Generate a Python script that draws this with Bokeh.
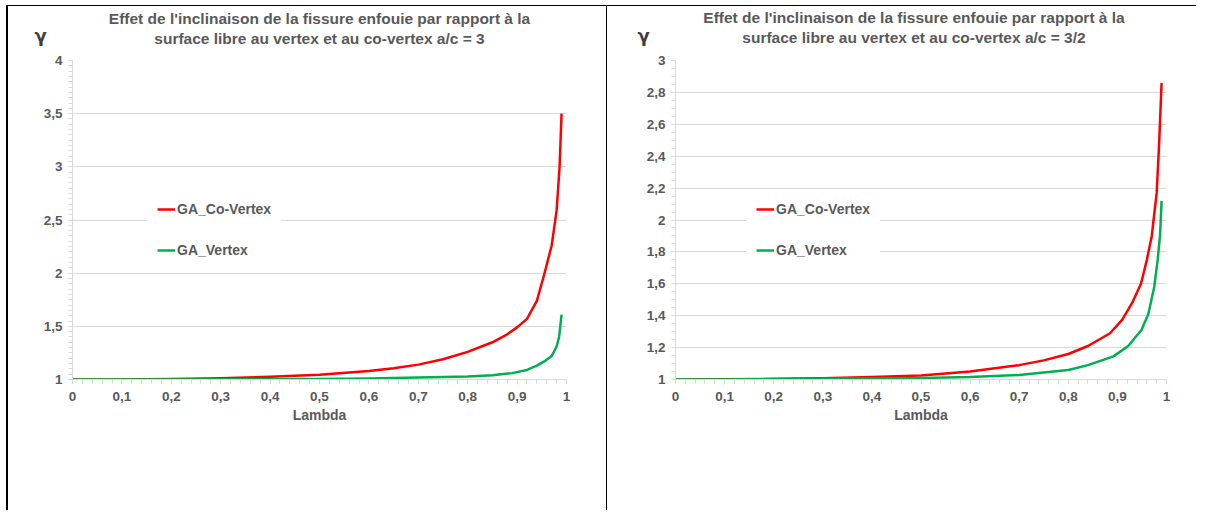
from bokeh.plotting import figure
from bokeh.layouts import row
from bokeh.models import FixedTicker, Legend, LegendItem, Title
from bokeh.embed import file_html
from bokeh.resources import INLINE

# ---------------- data ----------------
titles_left = ["Effet de l'inclinaison de la fissure enfouie par rapport à la",
               "surface libre au vertex et au co-vertex a/c = 3"]
titles_right = ["Effet de l'inclinaison de la fissure enfouie par rapport à la",
                "surface libre au vertex et au co-vertex a/c = 3/2"]
series_names = ["GA_Co-Vertex", "GA_Vertex"]
x_axis_title = "Lambda"
y_axis_title = "γ"

x_ticks = [0, 0.1, 0.2, 0.3, 0.4, 0.5, 0.6, 0.7, 0.8, 0.9, 1.0]
x_tick_labels = ["0", "0,1", "0,2", "0,3", "0,4", "0,5", "0,6", "0,7", "0,8", "0,9", "1"]
y_ticks_left = [1, 1.5, 2, 2.5, 3, 3.5, 4]
y_tick_labels_left = ["1", "1,5", "2", "2,5", "3", "3,5", "4"]
y_ticks_right = [1, 1.2, 1.4, 1.6, 1.8, 2.0, 2.2, 2.4, 2.6, 2.8, 3.0]
y_tick_labels_right = ["1", "1,2", "1,4", "1,6", "1,8", "2", "2,2", "2,4", "2,6", "2,8", "3"]

# a/c = 3
lam_co_3 = [0, 0.1, 0.2, 0.3, 0.4, 0.5, 0.6, 0.65, 0.7, 0.75, 0.8, 0.85, 0.88, 0.9,
            0.92, 0.94, 0.955, 0.97, 0.98, 0.986, 0.99]
gam_co_3 = [1.0, 1.001, 1.004, 1.012, 1.025, 1.045, 1.08, 1.105, 1.14, 1.19, 1.26, 1.35,
            1.425, 1.49, 1.57, 1.74, 1.99, 2.26, 2.59, 3.0, 3.5]
lam_v_3 = [0, 0.2, 0.4, 0.5, 0.6, 0.7, 0.8, 0.85, 0.89, 0.92, 0.94, 0.955, 0.97, 0.98,
           0.985, 0.99]
gam_v_3 = [1.0, 1.001, 1.003, 1.005, 1.01, 1.018, 1.028, 1.04, 1.06, 1.09, 1.13, 1.17,
           1.22, 1.31, 1.40, 1.61]

# a/c = 3/2
lam_co_15 = [0, 0.1, 0.2, 0.3, 0.4, 0.5, 0.6, 0.7, 0.75, 0.8, 0.84, 0.885, 0.91, 0.93,
             0.948, 0.96, 0.97, 0.98, 0.985, 0.99]
gam_co_15 = [1.0, 1.001, 1.004, 1.008, 1.015, 1.025, 1.05, 1.09, 1.12, 1.16, 1.21, 1.29,
             1.375, 1.48, 1.60, 1.75, 1.90, 2.17, 2.48, 2.86]
lam_v_15 = [0, 0.1, 0.2, 0.3, 0.4, 0.5, 0.6, 0.7, 0.8, 0.84, 0.892, 0.922, 0.949, 0.963,
            0.975, 0.982, 0.987, 0.99]
gam_v_15 = [1.0, 1.0, 1.002, 1.004, 1.007, 1.01, 1.015, 1.028, 1.06, 1.09, 1.145, 1.21,
            1.31, 1.41, 1.58, 1.75, 1.91, 2.12]

RED = "#FF0000"
GREEN = "#00B050"
TXT = "#595959"
FONT = "Liberation Sans"


def set_padding(t, top, bottom, left=0, right=0):
    for val in (dict(top=top, right=right, bottom=bottom, left=left),
                (top, right, bottom, left)):
        try:
            t.padding = val
            return
        except Exception:
            pass


def make_chart(width, height, bl, br, bt, bb,
               y_end, y_ticks, y_labels, y_minor, titles, title_pad_bottom,
               title_pad_right, lam_co, gam_co, lam_v, gam_v, legend_loc):
    p = figure(width=width, height=height, output_backend="svg", toolbar_location=None,
               x_range=(0, 1), y_range=(1, y_end),
               min_border_left=bl, min_border_right=br, min_border_top=bt,
               min_border_bottom=bb, outline_line_color=None,
               background_fill_color="white", border_fill_color="white")
    p.xgrid.visible = False
    p.ygrid.grid_line_color = "#D9D9D9"
    p.ygrid.grid_line_width = 1

    p.xaxis.ticker = FixedTicker(ticks=x_ticks,
                                 minor_ticks=[i * 0.02 for i in range(51)])
    p.xaxis.major_label_overrides = {t: l for t, l in zip(x_ticks, x_tick_labels)}
    p.yaxis.ticker = FixedTicker(ticks=y_ticks, minor_ticks=y_minor)
    p.yaxis.major_label_overrides = {t: l for t, l in zip(y_ticks, y_labels)}

    for ax in (p.xaxis, p.yaxis):
        ax.axis_line_color = "#D9D9D9"
        ax.major_tick_line_color = "#D9D9D9"
        ax.minor_tick_line_color = "#D9D9D9"
        ax.major_tick_in = 0
        ax.major_tick_out = 4
        ax.minor_tick_in = 0
        ax.minor_tick_out = 4
        ax.major_label_text_font = FONT
        ax.major_label_text_font_style = "bold"
        ax.major_label_text_font_size = "13.5px"
        ax.major_label_text_color = TXT
    p.xaxis.major_label_standoff = 8
    p.yaxis.major_label_standoff = 6
    p.xaxis.axis_label = x_axis_title
    p.xaxis.axis_label_text_font = FONT
    p.xaxis.axis_label_text_font_style = "bold"
    p.xaxis.axis_label_text_font_size = "14px"
    p.xaxis.axis_label_text_color = TXT
    p.xaxis.axis_label_standoff = 3

    # gamma as horizontal y-axis label above the top of the axis
    yax = p.yaxis[0]
    yax.axis_label = y_axis_title + "\n"
    yax.axis_label_text_font = "DejaVu Sans"
    yax.axis_label_text_font_style = "bold"
    yax.axis_label_text_font_size = "18px"
    yax.axis_label_text_line_height = 2.4
    yax.axis_label_text_color = "#404040"
    yax.axis_label_standoff = -6
    props = yax.properties()
    if "axis_label_orientation" in props:
        try:
            yax.axis_label_orientation = "horizontal"
        except Exception:
            pass
    if "axis_label_align" in props:
        for v in ("end", "right", "top"):
            try:
                yax.axis_label_align = v
                break
            except Exception:
                pass

    r_co = p.line(lam_co, gam_co, line_color=RED, line_width=2.5, line_join="round")
    r_v = p.line(lam_v, gam_v, line_color=GREEN, line_width=2.5, line_join="round")

    legend = Legend(items=[LegendItem(label=series_names[0], renderers=[r_co]),
                           LegendItem(label=series_names[1], renderers=[r_v])],
                    location=legend_loc, orientation="vertical",
                    glyph_width=18, glyph_height=20, label_height=20,
                    label_standoff=2, spacing=21, padding=10, margin=0,
                    border_line_alpha=0, background_fill_color="white",
                    background_fill_alpha=1,
                    label_text_font=FONT, label_text_font_style="bold",
                    label_text_font_size="14px", label_text_color=TXT)
    p.add_layout(legend, "center")

    # two-line title: first added sits closest to the plot
    t2 = Title(text=titles[1], align="center", text_font=FONT,
               text_font_style="bold", text_font_size="15.5px",
               text_color=TXT, standoff=0)
    set_padding(t2, 0, title_pad_bottom, 0, title_pad_right)
    t1 = Title(text=titles[0], align="center", text_font=FONT,
               text_font_style="bold", text_font_size="15.5px",
               text_color=TXT, standoff=0)
    set_padding(t1, 0, 1, 0, title_pad_right)
    p.add_layout(t2, "above")
    p.add_layout(t1, "above")
    return p


H = 505
p1 = make_chart(width=600, height=H, bl=64, br=42, bt=53, bb=H - 53 - 320,
                y_end=4, y_ticks=y_ticks_left, y_labels=y_tick_labels_left,
                y_minor=[1 + i * 0.05 for i in range(61)],
                titles=titles_left, title_pad_bottom=14, title_pad_right=0,
                lam_co=lam_co_3, gam_co=gam_co_3, lam_v=lam_v_3, gam_v=gam_v_3,
                legend_loc=(75, 109))
p1.styles = {"border-left": "2px solid black", "border-top": "1px solid black"}

p2 = make_chart(width=590, height=H, bl=68, br=31, bt=54, bb=H - 54 - 320,
                y_end=3, y_ticks=y_ticks_right, y_labels=y_tick_labels_right,
                y_minor=[1 + i * 0.05 for i in range(41)],
                titles=titles_right, title_pad_bottom=15, title_pad_right=14,
                lam_co=lam_co_15, gam_co=gam_co_15, lam_v=lam_v_15, gam_v=gam_v_15,
                legend_loc=(71, 109))
p2.styles = {"border-left": "1px solid black", "border-top": "1px solid black"}

layout = row(p1, p2, styles={"margin-top": "5px", "margin-left": "6px"})

open("out.html", "w").write(file_html(layout, INLINE))
